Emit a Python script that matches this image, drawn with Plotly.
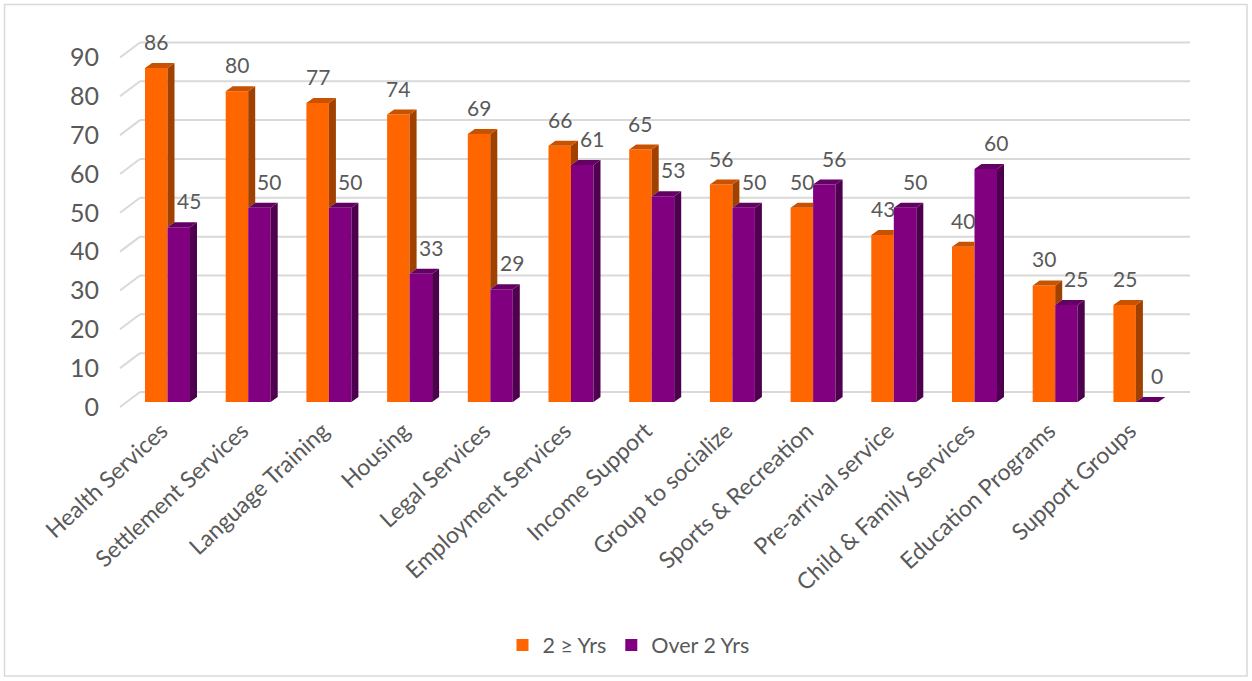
import plotly.graph_objects as go

# ---- data -------------------------------------------------------------
categories = ["Health Services", "Settlement Services", "Language Training", "Housing",
              "Legal Services", "Employment Services", "Income Support", "Group to socialize",
              "Sports & Recreation", "Pre-arrival service", "Child & Family Services",
              "Education Programs", "Support Groups"]
under_2_yrs = [86, 80, 77, 74, 69, 66, 65, 56, 50, 43, 40, 30, 25]
over_2_yrs = [45, 50, 50, 33, 29, 61, 53, 50, 56, 50, 60, 25, 0]
y_ticks = [0, 10, 20, 30, 40, 50, 60, 70, 80, 90]

series_names = ["2 \u2265 Yrs", "Over 2 Yrs"]

# ---- styling ----------------------------------------------------------
ORANGE, ORANGE_TOP, ORANGE_SIDE = "#FF6600", "#C95200", "#A14100"
PURPLE, PURPLE_TOP, PURPLE_SIDE = "#800080", "#640064", "#4E004E"
GRID = "#D9D9D9"
TEXT = "#595959"
FONT = "Lato"

# layout geometry in pixels
W_PX, H_PX = 1252, 681
L, R, T, B = 110, 1200, 30, 412
CAT0_PX, CAT_STEP_PX = 167.5, 80.7     # first category centre, spacing
ZERO_PX, UNIT_PX = 402.0, 3.884        # y pixel of 0 and pixels per unit

# pixel sizes converted into axis units
bar_w = 22.5 / CAT_STEP_PX
depth_dx, depth_dy = 7.0 / CAT_STEP_PX, 5.0 / UNIT_PX
front_dx, front_dy = -6.7 / CAT_STEP_PX, -5.0 / UNIT_PX     # front wall offset
back_dx, back_dy = 13.3 / CAT_STEP_PX, 10.0 / UNIT_PX       # back wall offset
grid_left = (126.7 - CAT0_PX) / CAT_STEP_PX
grid_right = (1190 - CAT0_PX) / CAT_STEP_PX

x_range = [(L - CAT0_PX) / CAT_STEP_PX, (R - CAT0_PX) / CAT_STEP_PX]
y_range = [(ZERO_PX - B) / UNIT_PX, (ZERO_PX - T) / UNIT_PX]

xs = list(range(len(categories)))

fig = go.Figure()

# front faces of the columns
fig.add_trace(go.Bar(x=xs, y=under_2_yrs, name=series_names[0], width=bar_w, offset=-bar_w,
                     marker=dict(color=ORANGE, line=dict(width=0)), hoverinfo="skip"))
fig.add_trace(go.Bar(x=xs, y=over_2_yrs, name=series_names[1], width=bar_w, offset=0,
                     marker=dict(color=PURPLE, line=dict(width=0)), hoverinfo="skip"))


def add_polys(polys, color):
    px, py = [], []
    for poly in polys:
        for (a, b) in poly + [poly[0]]:
            px.append(a)
            py.append(b)
        px.append(None)
        py.append(None)
    fig.add_trace(go.Scatter(x=px, y=py, mode="lines", fill="toself", fillcolor=color,
                             line=dict(width=0, color=color), hoverinfo="skip",
                             showlegend=False))


o_tops, o_sides, p_tops, p_sides = [], [], [], []
for i, (o, p) in enumerate(zip(under_2_yrs, over_2_yrs)):
    xl, xm, xr = i - bar_w, i, i + bar_w
    # orange column: parts not hidden by the purple column beside it
    if p > o:
        o_tops.append([(xl, o), (xm, o), (xm, o + depth_dy), (xl + depth_dx, o + depth_dy)])
    else:
        o_tops.append([(xl, o), (xm, o), (xm + depth_dx, o + depth_dy), (xl + depth_dx, o + depth_dy)])
        o_sides.append([(xm, p), (xm, o), (xm + depth_dx, o + depth_dy), (xm + depth_dx, p + depth_dy)])
    # purple column
    p_tops.append([(xm, p), (xr, p), (xr + depth_dx, p + depth_dy), (xm + depth_dx, p + depth_dy)])
    p_sides.append([(xr, 0), (xr, p), (xr + depth_dx, p + depth_dy), (xr + depth_dx, depth_dy)])

add_polys(o_sides, ORANGE_SIDE)
add_polys(o_tops, ORANGE_TOP)
add_polys(p_sides, PURPLE_SIDE)
add_polys(p_tops, PURPLE_TOP)

# gridlines on the back wall plus the slanted left-wall segments
shapes = []
for v in y_ticks:
    shapes.append(dict(type="line", xref="x", yref="y", layer="below",
                       x0=grid_left + front_dx, y0=v + front_dy,
                       x1=grid_left + back_dx, y1=v + back_dy,
                       line=dict(color=GRID, width=2)))
    shapes.append(dict(type="line", xref="x", yref="y", layer="below",
                       x0=grid_left + back_dx, y0=v + back_dy,
                       x1=grid_right, y1=v + back_dy,
                       line=dict(color=GRID, width=2)))

# outer chart border
def px_to_paper_x(px):
    return (px - L) / (R - L)


def px_to_paper_y(py):
    return (B - py) / (B - T)


shapes.append(dict(type="rect", xref="paper", yref="paper", layer="below",
                   x0=px_to_paper_x(4.5), x1=px_to_paper_x(1247),
                   y0=px_to_paper_y(676), y1=px_to_paper_y(4.5),
                   line=dict(color=GRID, width=1.5), fillcolor="rgba(0,0,0,0)"))

# value labels above each column
annotations = []
for i, (o, p) in enumerate(zip(under_2_yrs, over_2_yrs)):
    annotations.append(dict(x=i - bar_w / 2, y=o, xref="x", yref="y", text=str(o),
                            showarrow=False, yanchor="bottom", yshift=12,
                            font=dict(family=FONT, size=21, color=TEXT)))
    annotations.append(dict(x=i + bar_w / 2, y=p, xref="x", yref="y", text=str(p),
                            showarrow=False, yanchor="bottom", yshift=12, xshift=10,
                            font=dict(family=FONT, size=21, color=TEXT)))

fig.update_layout(
    width=W_PX, height=H_PX,
    margin=dict(l=L, r=W_PX - R, t=T, b=H_PX - B, pad=0),
    paper_bgcolor="white", plot_bgcolor="white",
    barmode="overlay",
    shapes=shapes, annotations=annotations,
    font=dict(family=FONT, color=TEXT),
    legend=dict(orientation="h", xref="container", yref="container",
                x=0.502, xanchor="center", y=1 - 645 / H_PX, yanchor="middle",
                font=dict(family=FONT, size=21.5, color=TEXT), traceorder="normal"),
    xaxis=dict(range=x_range, tickmode="array", tickvals=xs, ticktext=categories,
               tickangle=-43, showgrid=False, zeroline=False, showline=False, ticks="",
               ticklabelshift=-6,
               tickfont=dict(family=FONT, size=23, color=TEXT), fixedrange=True),
    yaxis=dict(range=y_range, tickmode="array", tickvals=y_ticks, showgrid=False,
               zeroline=False, showline=False, ticks="", ticklabelshift=5,
               ticklabelstandoff=10,
               tickfont=dict(family=FONT, size=25, color=TEXT), fixedrange=True),
)

fig.write_html("out.html")
